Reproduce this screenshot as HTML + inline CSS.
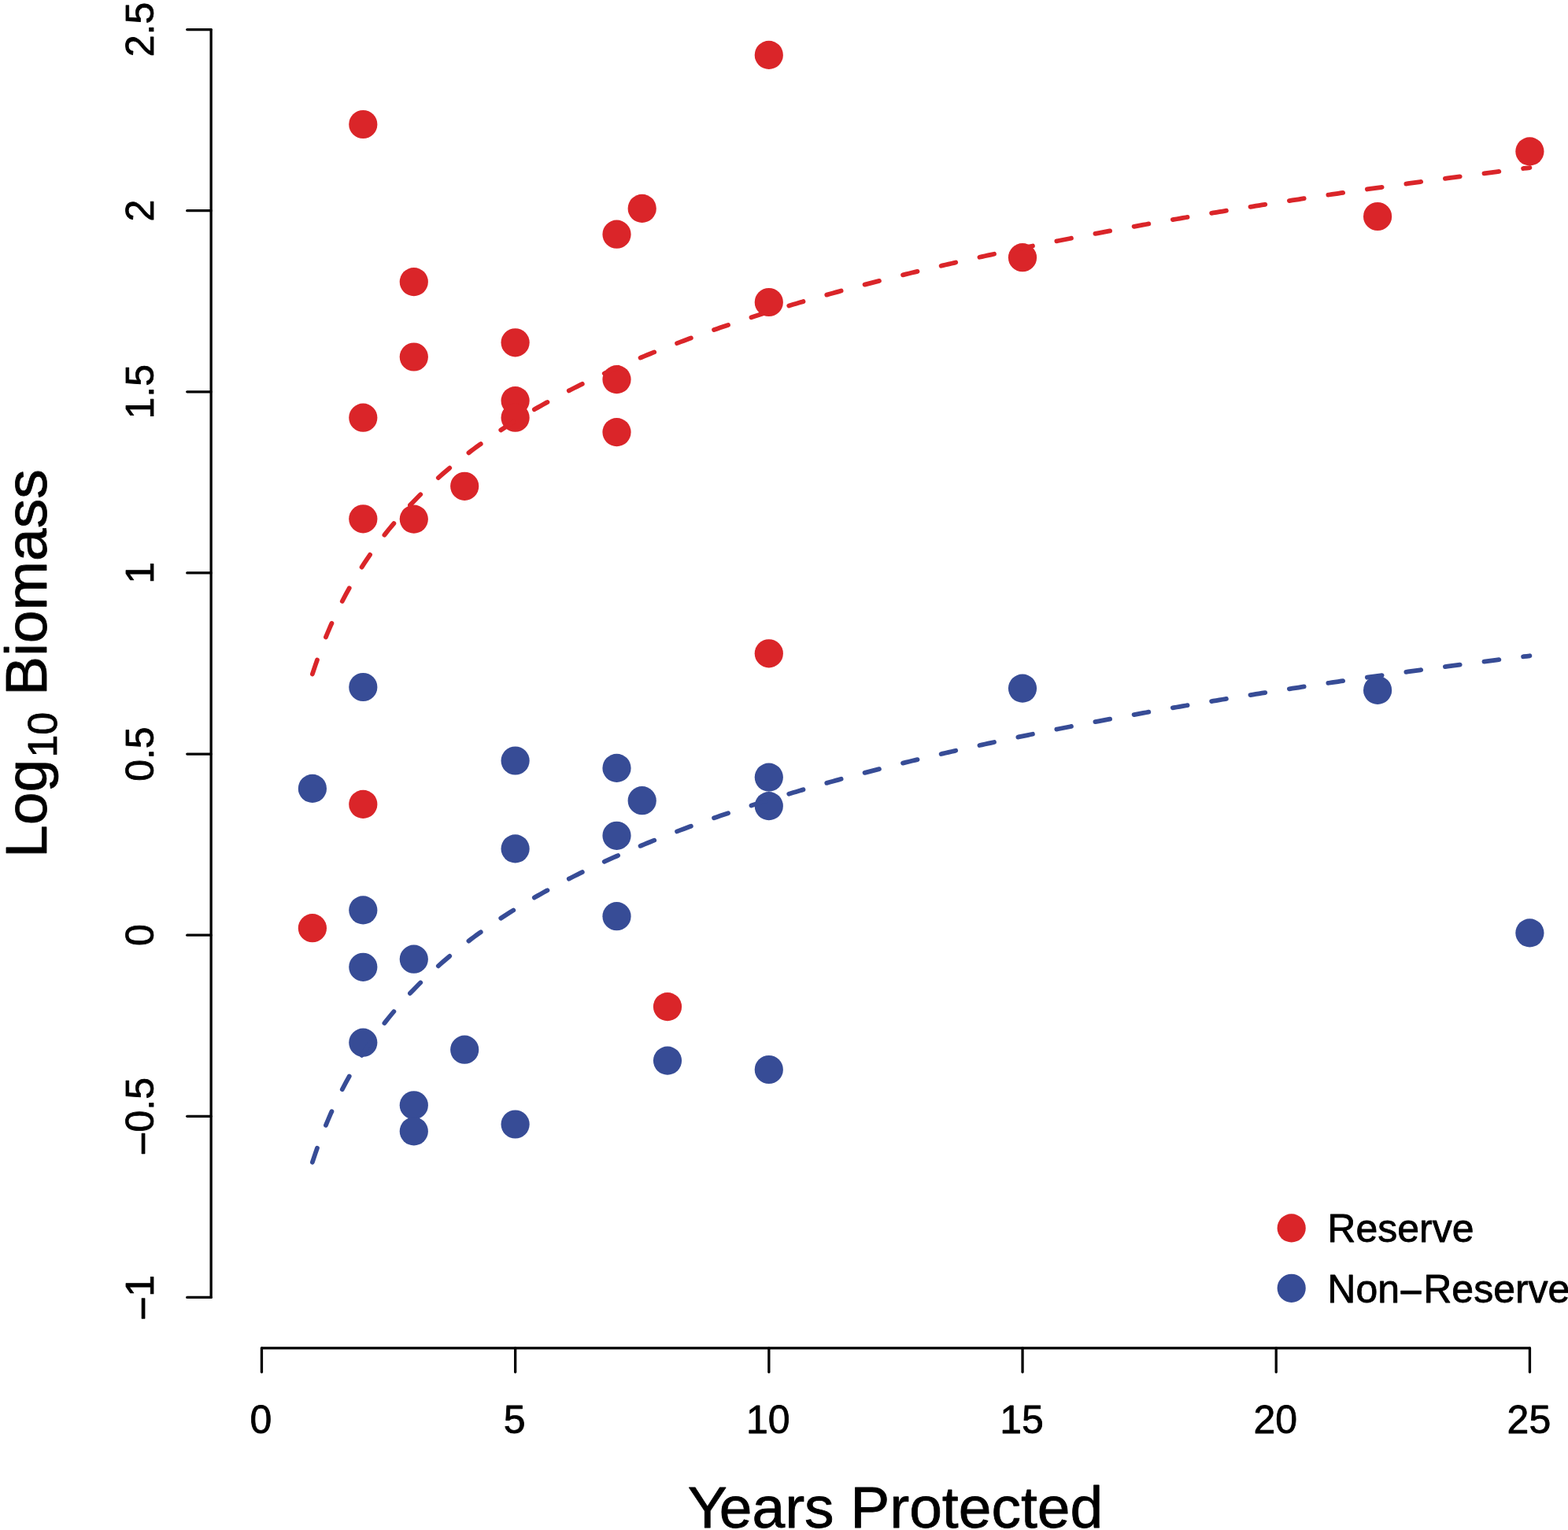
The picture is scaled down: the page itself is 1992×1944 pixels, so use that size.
<!DOCTYPE html>
<html lang="en"><head><meta charset="utf-8"><title>Log10 Biomass vs Years Protected</title>
<style>html,body{margin:0;padding:0;background:#fff}body{width:1992px;height:1944px;overflow:hidden}svg{display:block}text{font-family:"Liberation Sans",sans-serif;fill:#000;stroke:#000;stroke-width:0.8px;stroke-linejoin:round}</style></head><body>
<svg width="1992" height="1944" viewBox="0 0 1992 1944">
<rect width="1992" height="1944" fill="#fff"/>
<g fill="#374c96">
<circle cx="461.3" cy="873.0" r="18.10"/>
<circle cx="1299.0" cy="874.6" r="18.10"/>
<circle cx="1750.1" cy="876.9" r="18.10"/>
<circle cx="654.6" cy="966.5" r="18.10"/>
<circle cx="783.5" cy="975.9" r="18.10"/>
<circle cx="976.8" cy="987.6" r="18.10"/>
<circle cx="396.9" cy="1001.9" r="18.10"/>
<circle cx="815.7" cy="1017.2" r="18.10"/>
<circle cx="976.8" cy="1024.1" r="18.10"/>
<circle cx="783.5" cy="1061.8" r="18.10"/>
<circle cx="654.6" cy="1078.4" r="18.10"/>
<circle cx="461.3" cy="1156.4" r="18.10"/>
<circle cx="783.5" cy="1164.2" r="18.10"/>
<circle cx="1943.4" cy="1185.4" r="18.10"/>
<circle cx="525.8" cy="1218.7" r="18.10"/>
<circle cx="461.3" cy="1228.8" r="18.10"/>
<circle cx="461.3" cy="1324.7" r="18.10"/>
<circle cx="590.2" cy="1333.7" r="18.10"/>
<circle cx="848.0" cy="1347.6" r="18.10"/>
<circle cx="976.8" cy="1359.0" r="18.10"/>
<circle cx="525.8" cy="1404.3" r="18.10"/>
<circle cx="525.8" cy="1437.4" r="18.10"/>
<circle cx="654.6" cy="1428.5" r="18.10"/>
</g><g fill="#da2529">
<circle cx="461.3" cy="158.0" r="18.10"/>
<circle cx="976.8" cy="69.9" r="18.10"/>
<circle cx="1943.4" cy="192.4" r="18.10"/>
<circle cx="815.7" cy="264.9" r="18.10"/>
<circle cx="1750.1" cy="275.0" r="18.10"/>
<circle cx="783.5" cy="297.7" r="18.10"/>
<circle cx="1299.0" cy="327.2" r="18.10"/>
<circle cx="525.8" cy="358.1" r="18.10"/>
<circle cx="976.8" cy="384.0" r="18.10"/>
<circle cx="654.6" cy="435.3" r="18.10"/>
<circle cx="525.8" cy="453.5" r="18.10"/>
<circle cx="783.5" cy="482.1" r="18.10"/>
<circle cx="654.6" cy="509.1" r="18.10"/>
<circle cx="654.6" cy="530.7" r="18.10"/>
<circle cx="461.3" cy="530.7" r="18.10"/>
<circle cx="783.5" cy="549.1" r="18.10"/>
<circle cx="590.2" cy="617.8" r="18.10"/>
<circle cx="461.3" cy="659.3" r="18.10"/>
<circle cx="525.8" cy="659.6" r="18.10"/>
<circle cx="976.8" cy="830.3" r="18.10"/>
<circle cx="461.3" cy="1021.9" r="18.10"/>
<circle cx="396.9" cy="1179.2" r="18.10"/>
<circle cx="848.0" cy="1279.1" r="18.10"/>
</g>
<path d="M396.88 856.44 L400.75 844.80 L404.61 833.79 L408.48 823.36 L412.35 813.45 L416.21 804.00 L420.08 794.98 L423.94 786.35 L427.81 778.08 L431.68 770.14 L435.54 762.50 L439.41 755.14 L443.28 748.04 L447.14 741.19 L451.01 734.56 L454.88 728.15 L458.74 721.93 L462.61 715.90 L466.48 710.05 L470.34 704.37 L474.21 698.84 L478.07 693.46 L481.94 688.23 L485.81 683.12 L489.67 678.14 L493.54 673.29 L497.41 668.55 L501.27 663.92 L505.14 659.39 L509.01 654.97 L512.87 650.64 L516.74 646.40 L520.60 642.25 L524.47 638.18 L528.34 634.20 L532.20 630.29 L536.07 626.46 L539.94 622.70 L543.80 619.01 L547.67 615.39 L551.54 611.83 L555.40 608.33 L559.27 604.89 L563.14 601.51 L567.00 598.19 L570.87 594.92 L574.73 591.71 L578.60 588.54 L582.47 585.43 L586.33 582.36 L590.20 579.34 L594.07 576.36 L597.93 573.43 L601.80 570.54 L605.67 567.69 L609.53 564.88 L613.40 562.11 L617.26 559.38 L621.13 556.69 L625.00 554.03 L628.86 551.40 L632.73 548.81 L636.60 546.26 L640.46 543.73 L644.33 541.24 L648.20 538.77 L652.06 536.34 L655.93 533.94 L659.80 531.56 L663.66 529.22 L667.53 526.90 L671.39 524.60 L675.26 522.34 L679.13 520.09 L682.99 517.88 L686.86 515.69 L690.73 513.52 L694.59 511.37 L698.46 509.25 L702.33 507.15 L706.19 505.07 L710.06 503.01 L713.92 500.98 L717.79 498.96 L721.66 496.96 L725.52 494.99 L729.39 493.03 L733.26 491.09 L737.12 489.18 L740.99 487.27 L744.86 485.39 L748.72 483.53 L752.59 481.68 L756.46 479.85 L760.32 478.03 L764.19 476.24 L768.05 474.45 L771.92 472.69 L775.79 470.94 L779.65 469.20 L783.52 467.48 L787.39 465.77 L791.25 464.08 L795.12 462.40 L798.99 460.74 L802.85 459.09 L806.72 457.46 L810.58 455.83 L814.45 454.22 L818.32 452.63 L822.18 451.04 L826.05 449.47 L829.92 447.91 L833.78 446.36 L837.65 444.83 L841.52 443.30 L845.38 441.79 L849.25 440.29 L853.12 438.80 L856.98 437.32 L860.85 435.85 L864.71 434.40 L868.58 432.95 L872.45 431.51 L876.31 430.09 L880.18 428.67 L884.05 427.26 L887.91 425.87 L891.78 424.48 L895.65 423.10 L899.51 421.74 L903.38 420.38 L907.24 419.03 L911.11 417.69 L914.98 416.36 L918.84 415.04 L922.71 413.72 L926.58 412.42 L930.44 411.12 L934.31 409.83 L938.18 408.55 L942.04 407.28 L945.91 406.02 L949.78 404.76 L953.64 403.51 L957.51 402.27 L961.37 401.04 L965.24 399.82 L969.11 398.60 L972.97 397.39 L976.84 396.18 L980.71 394.99 L984.57 393.80 L988.44 392.62 L992.31 391.44 L996.17 390.28 L1000.04 389.12 L1003.90 387.96 L1007.77 386.81 L1011.64 385.67 L1015.50 384.54 L1019.37 383.41 L1023.24 382.29 L1027.10 381.17 L1030.97 380.06 L1034.84 378.96 L1038.70 377.86 L1042.57 376.77 L1046.44 375.68 L1050.30 374.61 L1054.17 373.53 L1058.03 372.46 L1061.90 371.40 L1065.77 370.34 L1069.63 369.29 L1073.50 368.25 L1077.37 367.21 L1081.23 366.17 L1085.10 365.14 L1088.97 364.12 L1092.83 363.10 L1096.70 362.09 L1100.56 361.08 L1104.43 360.07 L1108.30 359.08 L1112.16 358.08 L1116.03 357.09 L1119.90 356.11 L1123.76 355.13 L1127.63 354.16 L1131.50 353.19 L1135.36 352.22 L1139.23 351.26 L1143.10 350.31 L1146.96 349.35 L1150.83 348.41 L1154.69 347.47 L1158.56 346.53 L1162.43 345.59 L1166.29 344.67 L1170.16 343.74 L1174.03 342.82 L1177.89 341.90 L1181.76 340.99 L1185.63 340.08 L1189.49 339.18 L1193.36 338.28 L1197.22 337.39 L1201.09 336.49 L1204.96 335.61 L1208.82 334.72 L1212.69 333.84 L1216.56 332.97 L1220.42 332.09 L1224.29 331.23 L1228.16 330.36 L1232.02 329.50 L1235.89 328.64 L1239.76 327.79 L1243.62 326.94 L1247.49 326.09 L1251.35 325.25 L1255.22 324.41 L1259.09 323.57 L1262.95 322.74 L1266.82 321.91 L1270.69 321.09 L1274.55 320.27 L1278.42 319.45 L1282.29 318.63 L1286.15 317.82 L1290.02 317.01 L1293.88 316.21 L1297.75 315.40 L1301.62 314.60 L1305.48 313.81 L1309.35 313.02 L1313.22 312.23 L1317.08 311.44 L1320.95 310.66 L1324.82 309.88 L1328.68 309.10 L1332.55 308.32 L1336.42 307.55 L1340.28 306.79 L1344.15 306.02 L1348.01 305.26 L1351.88 304.50 L1355.75 303.74 L1359.61 302.99 L1363.48 302.24 L1367.35 301.49 L1371.21 300.74 L1375.08 300.00 L1378.95 299.26 L1382.81 298.52 L1386.68 297.79 L1390.54 297.06 L1394.41 296.33 L1398.28 295.60 L1402.14 294.88 L1406.01 294.16 L1409.88 293.44 L1413.74 292.72 L1417.61 292.01 L1421.48 291.30 L1425.34 290.59 L1429.21 289.88 L1433.08 289.18 L1436.94 288.48 L1440.81 287.78 L1444.67 287.08 L1448.54 286.39 L1452.41 285.70 L1456.27 285.01 L1460.14 284.32 L1464.01 283.64 L1467.87 282.96 L1471.74 282.28 L1475.61 281.60 L1479.47 280.93 L1483.34 280.25 L1487.20 279.58 L1491.07 278.92 L1494.94 278.25 L1498.80 277.59 L1502.67 276.92 L1506.54 276.26 L1510.40 275.61 L1514.27 274.95 L1518.14 274.30 L1522.00 273.65 L1525.87 273.00 L1529.74 272.35 L1533.60 271.71 L1537.47 271.07 L1541.33 270.43 L1545.20 269.79 L1549.07 269.15 L1552.93 268.52 L1556.80 267.89 L1560.67 267.26 L1564.53 266.63 L1568.40 266.00 L1572.27 265.38 L1576.13 264.75 L1580.00 264.13 L1583.86 263.52 L1587.73 262.90 L1591.60 262.28 L1595.46 261.67 L1599.33 261.06 L1603.20 260.45 L1607.06 259.84 L1610.93 259.24 L1614.80 258.63 L1618.66 258.03 L1622.53 257.43 L1626.40 256.83 L1630.26 256.24 L1634.13 255.64 L1637.99 255.05 L1641.86 254.46 L1645.73 253.87 L1649.59 253.28 L1653.46 252.70 L1657.33 252.11 L1661.19 251.53 L1665.06 250.95 L1668.93 250.37 L1672.79 249.79 L1676.66 249.22 L1680.52 248.64 L1684.39 248.07 L1688.26 247.50 L1692.12 246.93 L1695.99 246.36 L1699.86 245.80 L1703.72 245.23 L1707.59 244.67 L1711.46 244.11 L1715.32 243.55 L1719.19 242.99 L1723.06 242.43 L1726.92 241.88 L1730.79 241.33 L1734.65 240.77 L1738.52 240.22 L1742.39 239.67 L1746.25 239.13 L1750.12 238.58 L1753.99 238.04 L1757.85 237.49 L1761.72 236.95 L1765.59 236.41 L1769.45 235.87 L1773.32 235.34 L1777.18 234.80 L1781.05 234.27 L1784.92 233.73 L1788.78 233.20 L1792.65 232.67 L1796.52 232.14 L1800.38 231.62 L1804.25 231.09 L1808.12 230.57 L1811.98 230.04 L1815.85 229.52 L1819.72 229.00 L1823.58 228.48 L1827.45 227.97 L1831.31 227.45 L1835.18 226.93 L1839.05 226.42 L1842.91 225.91 L1846.78 225.40 L1850.65 224.89 L1854.51 224.38 L1858.38 223.87 L1862.25 223.37 L1866.11 222.86 L1869.98 222.36 L1873.84 221.86 L1877.71 221.36 L1881.58 220.86 L1885.44 220.36 L1889.31 219.86 L1893.18 219.36 L1897.04 218.87 L1900.91 218.38 L1904.78 217.88 L1908.64 217.39 L1912.51 216.90 L1916.38 216.42 L1920.24 215.93 L1924.11 215.44 L1927.97 214.96 L1931.84 214.47 L1935.71 213.99 L1939.57 213.51 L1943.44 213.03" fill="none" stroke="#da2529" stroke-width="5.800" stroke-linecap="round" stroke-linejoin="round" stroke-dasharray="19.00 31.00"/>
<path d="M396.88 1476.69 L400.75 1465.04 L404.61 1454.04 L408.48 1443.61 L412.35 1433.69 L416.21 1424.25 L420.08 1415.23 L423.94 1406.60 L427.81 1398.33 L431.68 1390.38 L435.54 1382.74 L439.41 1375.38 L443.28 1368.29 L447.14 1361.43 L451.01 1354.81 L454.88 1348.39 L458.74 1342.18 L462.61 1336.15 L466.48 1330.30 L470.34 1324.61 L474.21 1319.09 L478.07 1313.71 L481.94 1308.47 L485.81 1303.37 L489.67 1298.39 L493.54 1293.54 L497.41 1288.79 L501.27 1284.16 L505.14 1279.64 L509.01 1275.21 L512.87 1270.88 L516.74 1266.64 L520.60 1262.49 L524.47 1258.43 L528.34 1254.44 L532.20 1250.54 L536.07 1246.70 L539.94 1242.95 L543.80 1239.25 L547.67 1235.63 L551.54 1232.07 L555.40 1228.58 L559.27 1225.14 L563.14 1221.76 L567.00 1218.44 L570.87 1215.17 L574.73 1211.96 L578.60 1208.79 L582.47 1205.68 L586.33 1202.61 L590.20 1199.59 L594.07 1196.61 L597.93 1193.68 L601.80 1190.79 L605.67 1187.94 L609.53 1185.13 L613.40 1182.36 L617.26 1179.63 L621.13 1176.93 L625.00 1174.27 L628.86 1171.65 L632.73 1169.06 L636.60 1166.50 L640.46 1163.98 L644.33 1161.48 L648.20 1159.02 L652.06 1156.59 L655.93 1154.19 L659.80 1151.81 L663.66 1149.46 L667.53 1147.14 L671.39 1144.85 L675.26 1142.58 L679.13 1140.34 L682.99 1138.12 L686.86 1135.93 L690.73 1133.76 L694.59 1131.62 L698.46 1129.49 L702.33 1127.39 L706.19 1125.32 L710.06 1123.26 L713.92 1121.22 L717.79 1119.21 L721.66 1117.21 L725.52 1115.24 L729.39 1113.28 L733.26 1111.34 L737.12 1109.42 L740.99 1107.52 L744.86 1105.64 L748.72 1103.77 L752.59 1101.93 L756.46 1100.09 L760.32 1098.28 L764.19 1096.48 L768.05 1094.70 L771.92 1092.93 L775.79 1091.18 L779.65 1089.45 L783.52 1087.73 L787.39 1086.02 L791.25 1084.33 L795.12 1082.65 L798.99 1080.99 L802.85 1079.34 L806.72 1077.70 L810.58 1076.08 L814.45 1074.47 L818.32 1072.87 L822.18 1071.29 L826.05 1069.72 L829.92 1068.16 L833.78 1066.61 L837.65 1065.07 L841.52 1063.55 L845.38 1062.04 L849.25 1060.54 L853.12 1059.05 L856.98 1057.57 L860.85 1056.10 L864.71 1054.64 L868.58 1053.20 L872.45 1051.76 L876.31 1050.33 L880.18 1048.92 L884.05 1047.51 L887.91 1046.11 L891.78 1044.73 L895.65 1043.35 L899.51 1041.98 L903.38 1040.63 L907.24 1039.28 L911.11 1037.94 L914.98 1036.60 L918.84 1035.28 L922.71 1033.97 L926.58 1032.66 L930.44 1031.37 L934.31 1030.08 L938.18 1028.80 L942.04 1027.53 L945.91 1026.26 L949.78 1025.01 L953.64 1023.76 L957.51 1022.52 L961.37 1021.29 L965.24 1020.06 L969.11 1018.84 L972.97 1017.63 L976.84 1016.43 L980.71 1015.24 L984.57 1014.05 L988.44 1012.86 L992.31 1011.69 L996.17 1010.52 L1000.04 1009.36 L1003.90 1008.21 L1007.77 1007.06 L1011.64 1005.92 L1015.50 1004.78 L1019.37 1003.66 L1023.24 1002.53 L1027.10 1001.42 L1030.97 1000.31 L1034.84 999.21 L1038.70 998.11 L1042.57 997.02 L1046.44 995.93 L1050.30 994.85 L1054.17 993.78 L1058.03 992.71 L1061.90 991.65 L1065.77 990.59 L1069.63 989.54 L1073.50 988.49 L1077.37 987.45 L1081.23 986.42 L1085.10 985.39 L1088.97 984.37 L1092.83 983.35 L1096.70 982.33 L1100.56 981.32 L1104.43 980.32 L1108.30 979.32 L1112.16 978.33 L1116.03 977.34 L1119.90 976.36 L1123.76 975.38 L1127.63 974.40 L1131.50 973.43 L1135.36 972.47 L1139.23 971.51 L1143.10 970.55 L1146.96 969.60 L1150.83 968.65 L1154.69 967.71 L1158.56 966.77 L1162.43 965.84 L1166.29 964.91 L1170.16 963.99 L1174.03 963.07 L1177.89 962.15 L1181.76 961.24 L1185.63 960.33 L1189.49 959.43 L1193.36 958.53 L1197.22 957.63 L1201.09 956.74 L1204.96 955.85 L1208.82 954.97 L1212.69 954.09 L1216.56 953.21 L1220.42 952.34 L1224.29 951.47 L1228.16 950.61 L1232.02 949.75 L1235.89 948.89 L1239.76 948.04 L1243.62 947.19 L1247.49 946.34 L1251.35 945.50 L1255.22 944.66 L1259.09 943.82 L1262.95 942.99 L1266.82 942.16 L1270.69 941.33 L1274.55 940.51 L1278.42 939.69 L1282.29 938.88 L1286.15 938.07 L1290.02 937.26 L1293.88 936.45 L1297.75 935.65 L1301.62 934.85 L1305.48 934.06 L1309.35 933.26 L1313.22 932.47 L1317.08 931.69 L1320.95 930.90 L1324.82 930.12 L1328.68 929.35 L1332.55 928.57 L1336.42 927.80 L1340.28 927.03 L1344.15 926.27 L1348.01 925.50 L1351.88 924.74 L1355.75 923.99 L1359.61 923.23 L1363.48 922.48 L1367.35 921.73 L1371.21 920.99 L1375.08 920.25 L1378.95 919.51 L1382.81 918.77 L1386.68 918.04 L1390.54 917.30 L1394.41 916.57 L1398.28 915.85 L1402.14 915.12 L1406.01 914.40 L1409.88 913.68 L1413.74 912.97 L1417.61 912.25 L1421.48 911.54 L1425.34 910.84 L1429.21 910.13 L1433.08 909.43 L1436.94 908.73 L1440.81 908.03 L1444.67 907.33 L1448.54 906.64 L1452.41 905.95 L1456.27 905.26 L1460.14 904.57 L1464.01 903.89 L1467.87 903.20 L1471.74 902.52 L1475.61 901.85 L1479.47 901.17 L1483.34 900.50 L1487.20 899.83 L1491.07 899.16 L1494.94 898.50 L1498.80 897.83 L1502.67 897.17 L1506.54 896.51 L1510.40 895.85 L1514.27 895.20 L1518.14 894.55 L1522.00 893.90 L1525.87 893.25 L1529.74 892.60 L1533.60 891.96 L1537.47 891.31 L1541.33 890.67 L1545.20 890.03 L1549.07 889.40 L1552.93 888.76 L1556.80 888.13 L1560.67 887.50 L1564.53 886.87 L1568.40 886.25 L1572.27 885.62 L1576.13 885.00 L1580.00 884.38 L1583.86 883.76 L1587.73 883.14 L1591.60 882.53 L1595.46 881.92 L1599.33 881.31 L1603.20 880.70 L1607.06 880.09 L1610.93 879.48 L1614.80 878.88 L1618.66 878.28 L1622.53 877.68 L1626.40 877.08 L1630.26 876.48 L1634.13 875.89 L1637.99 875.30 L1641.86 874.71 L1645.73 874.12 L1649.59 873.53 L1653.46 872.94 L1657.33 872.36 L1661.19 871.78 L1665.06 871.20 L1668.93 870.62 L1672.79 870.04 L1676.66 869.46 L1680.52 868.89 L1684.39 868.32 L1688.26 867.75 L1692.12 867.18 L1695.99 866.61 L1699.86 866.04 L1703.72 865.48 L1707.59 864.92 L1711.46 864.35 L1715.32 863.80 L1719.19 863.24 L1723.06 862.68 L1726.92 862.13 L1730.79 861.57 L1734.65 861.02 L1738.52 860.47 L1742.39 859.92 L1746.25 859.37 L1750.12 858.83 L1753.99 858.28 L1757.85 857.74 L1761.72 857.20 L1765.59 856.66 L1769.45 856.12 L1773.32 855.58 L1777.18 855.05 L1781.05 854.51 L1784.92 853.98 L1788.78 853.45 L1792.65 852.92 L1796.52 852.39 L1800.38 851.86 L1804.25 851.34 L1808.12 850.81 L1811.98 850.29 L1815.85 849.77 L1819.72 849.25 L1823.58 848.73 L1827.45 848.21 L1831.31 847.70 L1835.18 847.18 L1839.05 846.67 L1842.91 846.15 L1846.78 845.64 L1850.65 845.13 L1854.51 844.63 L1858.38 844.12 L1862.25 843.61 L1866.11 843.11 L1869.98 842.60 L1873.84 842.10 L1877.71 841.60 L1881.58 841.10 L1885.44 840.60 L1889.31 840.11 L1893.18 839.61 L1897.04 839.12 L1900.91 838.62 L1904.78 838.13 L1908.64 837.64 L1912.51 837.15 L1916.38 836.66 L1920.24 836.17 L1924.11 835.69 L1927.97 835.20 L1931.84 834.72 L1935.71 834.24 L1939.57 833.76 L1943.44 833.28" fill="none" stroke="#374c96" stroke-width="5.800" stroke-linecap="round" stroke-linejoin="round" stroke-dasharray="19.00 31.00"/>
<g fill="none" stroke="#000" stroke-width="3.300" stroke-linecap="round" stroke-linejoin="round">
<path d="M268.15 37.55 V1648.46"/>
<path d="M268.15 1648.46 H237.75"/>
<path d="M268.15 1418.33 H237.75"/>
<path d="M268.15 1188.20 H237.75"/>
<path d="M268.15 958.07 H237.75"/>
<path d="M268.15 727.94 H237.75"/>
<path d="M268.15 497.81 H237.75"/>
<path d="M268.15 267.68 H237.75"/>
<path d="M268.15 37.55 H237.75"/>
<path d="M332.44 1712.90 H1943.44"/>
<path d="M332.44 1712.90 V1743.30"/>
<path d="M654.64 1712.90 V1743.30"/>
<path d="M976.84 1712.90 V1743.30"/>
<path d="M1299.04 1712.90 V1743.30"/>
<path d="M1621.24 1712.90 V1743.30"/>
<path d="M1943.44 1712.90 V1743.30"/>
</g>
<g font-size="50px" text-anchor="middle">
<text transform="translate(195.0 1648.5) rotate(-90)" x="1.2"><tspan dx="-2.4" textLength="34.1" lengthAdjust="spacingAndGlyphs">-</tspan><tspan dx="-2.5">1</tspan></text>
<text transform="translate(195.0 1418.3) rotate(-90)" x="1.2"><tspan dx="-2.4" textLength="34.1" lengthAdjust="spacingAndGlyphs">-</tspan><tspan dx="-2.5">0.5</tspan></text>
<text transform="translate(195.0 1188.2) rotate(-90)" x="0.0">0</text>
<text transform="translate(195.0 958.1) rotate(-90)" x="0.0">0.5</text>
<text transform="translate(195.0 727.9) rotate(-90)" x="0.0">1</text>
<text transform="translate(195.0 497.8) rotate(-90)" x="0.0">1.5</text>
<text transform="translate(195.0 267.7) rotate(-90)" x="0.0">2</text>
<text transform="translate(195.0 37.5) rotate(-90)" x="0.0">2.5</text>
<text x="331.4" y="1820.7">0</text>
<text x="653.6" y="1820.7">5</text>
<text x="975.8" y="1820.7">10</text>
<text x="1298.0" y="1820.7">15</text>
<text x="1620.2" y="1820.7">20</text>
<text x="1942.4" y="1820.7">25</text>
</g>
<text x="873.75" y="1940.6" font-size="75px" dx="0 -3.2 0 0 0 -0.3">Years Protected</text>
<text transform="translate(58.9 842.0) rotate(-90)" font-size="75px"><tspan x="-247.91">Log</tspan><tspan x="-120.57" dy="12.8" font-size="52px">10</tspan><tspan x="-62.73" dy="-12.8"> Biomass</tspan></text>
<circle cx="1640.7" cy="1560.4" r="18.10" fill="#da2529"/>
<circle cx="1640.7" cy="1636.8" r="18.10" fill="#374c96"/>
<text x="1686.3" y="1578.2" font-size="50px">Reserve</text>
<text x="1686.3" y="1654.5" font-size="50px">Non<tspan dx="-2.4" textLength="34.1" lengthAdjust="spacingAndGlyphs">-</tspan><tspan dx="-1.5">Reserve</tspan></text>
</svg></body></html>
